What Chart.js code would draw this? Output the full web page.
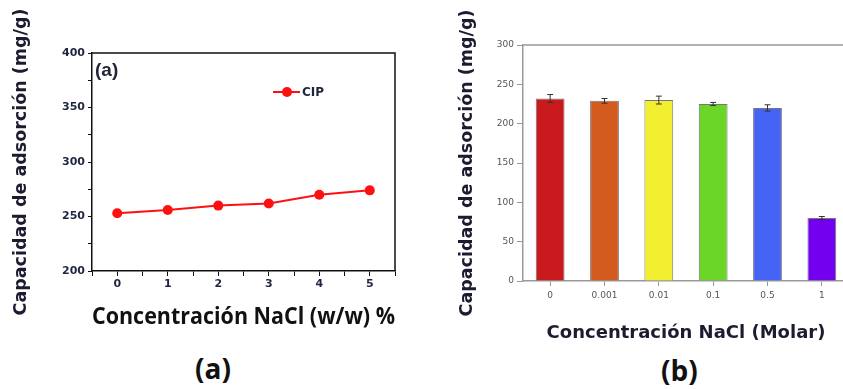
<!DOCTYPE html>
<html>
<head>
<meta charset="utf-8">
<script src="https://cdn.jsdelivr.net/npm/chart.js@4/dist/chart.umd.min.js"></script>
<style>
  html, body { margin: 0; padding: 0; background: #fff; }
  body { width: 843px; height: 389px; overflow: hidden; position: relative; }
  .box { position: absolute; }
  .tag { position: absolute; font-family: "Open Sans", sans-serif; color: #111; white-space: nowrap; }
</style>
</head>
<body>
<div class="box" style="left:0;top:0;width:430px;height:332px"><canvas id="chartA"></canvas></div>
<div class="box" style="left:440px;top:0;width:412px;height:344px"><canvas id="chartB"></canvas></div>
<span class="tag" style="left:95px;top:59px;font-family:'Liberation Sans';font-weight:bold;font-size:19px;color:#23233a">(a)</span>
<span class="tag" style="left:195px;top:349px;font-size:28px;font-weight:700">(a)</span>
<span class="tag" style="left:661px;top:351px;font-size:28px;font-weight:700">(b)</span>
<script>
// panel (a): NaCl % w/w vs adsorption
const naclPercent = [0, 1, 2, 3, 4, 5];
const cipCapacity = [253, 256, 260, 262, 270, 274];

// panel (b): NaCl molar vs adsorption
const molarLabels = ["0", "0.001", "0.01", "0.1", "0.5", "1"];
const molarCapacity = [232, 229, 230, 225, 220, 80];
const molarError = [5, 3, 5, 2, 4, 2];
const barColors = ["#c8191d", "#d35b20", "#f2ee30", "#6bd628", "#4563f4", "#7300ef"];

const yTitle = "Capacidad de adsorción (mg/g)";
const titleColor = "#1c1c30";

const frame = {
  id: "frame",
  afterDraw(chart, args, opts) {
    const { ctx, chartArea: a } = chart;
    ctx.save();
    ctx.strokeStyle = opts.color;
    ctx.lineWidth = opts.width;
    ctx.beginPath();
    ctx.moveTo(a.left, a.top);
    ctx.lineTo(opts.right ? a.right : chart.width, a.top);
    if (opts.right) ctx.lineTo(a.right, a.bottom);
    ctx.stroke();
    ctx.restore();
  }
};

const lineLegend = {
  id: "lineLegend",
  afterDraw(chart) {
    const { ctx, chartArea: a } = chart;
    const ds = chart.data.datasets[0];
    const x = a.left + 181, y = a.top + 39;
    ctx.save();
    ctx.strokeStyle = ds.borderColor;
    ctx.lineWidth = 2;
    ctx.beginPath();
    ctx.moveTo(x, y);
    ctx.lineTo(x + 27, y);
    ctx.stroke();
    ctx.fillStyle = ds.backgroundColor;
    ctx.beginPath();
    ctx.arc(x + 14, y, 5, 0, Math.PI * 2);
    ctx.fill();
    ctx.fillStyle = "#1e2540";
    ctx.font = "bold 12px 'DejaVu Sans'";
    ctx.textBaseline = "middle";
    ctx.fillText(ds.label, x + 29, y + 1);
    ctx.restore();
  }
};

const errorBars = {
  id: "errorBars",
  afterDatasetsDraw(chart) {
    const { ctx, scales: { y } } = chart;
    const meta = chart.getDatasetMeta(0);
    ctx.save();
    ctx.strokeStyle = "#333";
    ctx.lineWidth = 1;
    meta.data.forEach((bar, i) => {
      const v = molarCapacity[i], e = molarError[i];
      const top = y.getPixelForValue(v + e), bot = y.getPixelForValue(v - e);
      ctx.beginPath();
      ctx.moveTo(bar.x, top); ctx.lineTo(bar.x, bot);
      ctx.moveTo(bar.x - 3, top); ctx.lineTo(bar.x + 3, top);
      ctx.moveTo(bar.x - 3, bot); ctx.lineTo(bar.x + 3, bot);
      ctx.stroke();
    });
    ctx.restore();
  }
};

new Chart(document.getElementById("chartA"), {
  type: "line",
  data: {
    datasets: [{
      label: "CIP",
      data: naclPercent.map((x, i) => ({ x: x, y: cipCapacity[i] })),
      borderColor: "#ff1010",
      backgroundColor: "#ff1010",
      borderWidth: 2,
      pointRadius: 5,
      pointBorderWidth: 0,
    }],
  },
  plugins: [frame, lineLegend],
  options: {
    responsive: true,
    maintainAspectRatio: false,
    animation: false,
    layout: { padding: { left: 6, top: 53, right: 35, bottom: 0 } },
    plugins: {
      legend: { display: false },
      tooltip: { enabled: false },
      frame: { color: "#111", width: 1.5, right: true },
    },
    scales: {
      x: {
        type: "linear",
        min: -0.5,
        max: 5.5,
        afterFit: (s) => { s.height = 61; },
        border: { color: "#111", width: 1.5 },
        grid: { drawOnChartArea: false, color: "#111", tickLength: 5 },
        ticks: {
          stepSize: 0.5,
          autoSkip: false,
          maxRotation: 0,
          padding: 2,
          color: "#1e2540",
          font: { family: "DejaVu Sans", weight: "bold", size: 11 },
          callback: (v) => (Number.isInteger(v) && v >= 0 && v <= 5 ? v : ""),
        },
        title: {
          display: true,
          text: "Concentración NaCl (w/w) %",
          color: "#111",
          padding: { top: 0, bottom: 0 },
          font: { family: "Open Sans", weight: "bold", size: 24 },
        },
      },
      y: {
        min: 200,
        max: 400,
        afterFit: (s) => { s.width = 86; },
        border: { color: "#111", width: 1.5 },
        grid: { drawOnChartArea: false, color: "#111", tickLength: 4 },
        ticks: {
          stepSize: 25,
          autoSkip: false,
          padding: 3,
          color: "#1e2540",
          font: { family: "DejaVu Sans", weight: "bold", size: 11 },
          callback: (v) => (v % 50 === 0 ? v : ""),
        },
        title: {
          display: true,
          text: yTitle,
          color: titleColor,
          padding: { top: 5, bottom: 0 },
          font: { family: "DejaVu Sans", weight: "bold", size: 17.5 },
        },
      },
    },
  },
});

new Chart(document.getElementById("chartB"), {
  type: "bar",
  data: {
    labels: molarLabels,
    datasets: [{
      data: molarCapacity,
      backgroundColor: barColors,
      borderColor: "#777",
      borderWidth: 1,
      barPercentage: 0.53,
      categoryPercentage: 1,
    }],
  },
  plugins: [frame, errorBars],
  options: {
    responsive: true,
    maintainAspectRatio: false,
    animation: false,
    layout: { padding: { left: 8, top: 45, right: 3, bottom: 0 } },
    plugins: {
      legend: { display: false },
      tooltip: { enabled: false },
      frame: { color: "#999", width: 1.5, right: false },
    },
    scales: {
      x: {
        afterFit: (s) => { s.height = 63; },
        border: { color: "#999", width: 1.5 },
        grid: { drawOnChartArea: false, offset: false, color: "#999", tickLength: 5 },
        ticks: {
          maxRotation: 0,
          padding: 4,
          color: "#555",
          font: { family: "DejaVu Sans", size: 9 },
        },
        title: {
          display: true,
          text: "Concentración NaCl (Molar)",
          color: titleColor,
          padding: { top: 0, bottom: 0 },
          font: { family: "DejaVu Sans", weight: "bold", size: 18 },
        },
      },
      y: {
        min: 0,
        max: 300,
        afterFit: (s) => { s.width = 75; },
        border: { color: "#999", width: 1.5 },
        grid: { drawOnChartArea: false, color: "#999", tickLength: 6 },
        ticks: {
          stepSize: 50,
          padding: 3,
          color: "#555",
          font: { family: "DejaVu Sans", size: 9 },
        },
        title: {
          display: true,
          text: yTitle,
          color: titleColor,
          padding: { top: 9, bottom: 0 },
          font: { family: "DejaVu Sans", weight: "bold", size: 17.5 },
        },
      },
    },
  },
});
</script>
</body>
</html>
